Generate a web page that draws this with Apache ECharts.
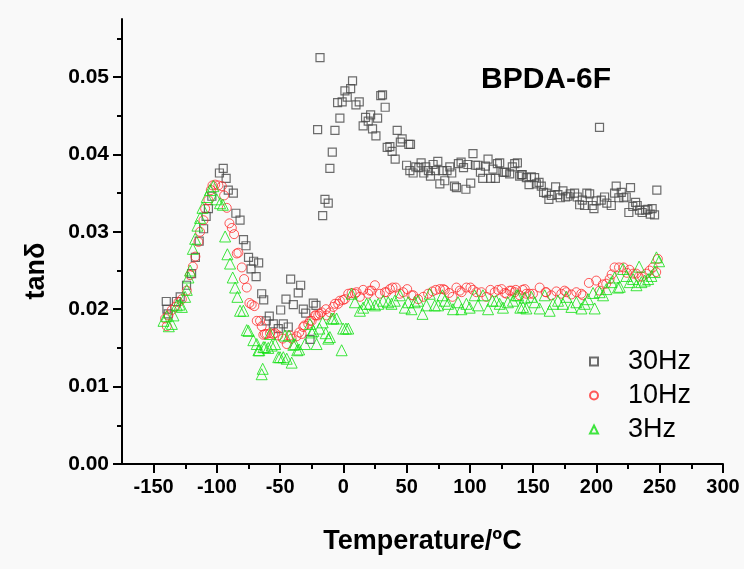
<!DOCTYPE html>
<html><head><meta charset="utf-8">
<script src="https://cdn.jsdelivr.net/npm/echarts@6/dist/echarts.min.js"></script>
<style>html,body{margin:0;padding:0;background:#f9f9f9}#c{width:744px;height:569px}</style>
</head><body><div id="c"></div>
<script>
// 30 Hz (squares)
const t30=[-140,-139.5,-138.5,-132,-129,-124,-120,-117,-114,-110.5,-108.5,-106.7,-104,-98,-95,-92.7,-91,-87,-85,-81.7,-79,-77,-75,-73,-71,-69,-67,-64.6,-63,-61,-58.6,-55.4,-51.5,-49.6,-47.5,-45.4,-43.6,-41.7,-39.6,-35.7,-33.8,-31.7,-29.8,-26.4,-23.8,-21.7,-20.4,-18.5,-16.4,-14.6,-12,-10.7,-8.8,-6.7,-4.6,-2.8,-1,1.2,3,5.7,7.2,9.9,12.5,15.6,17.5,19.6,21.5,23,25.7,27,29.5,30.9,33,34.6,36.7,38.5,40.9,42.5,45,46.4,49.9,51.7,53,52.5,55.1,57.2,59.6,61.4,63.5,65.1,67.2,68.8,70.9,72.8,74.6,76.2,78.3,80.1,81.9,84.1,85.6,87.8,89.3,90.9,93,94.9,96.8,98.4,100.6,102.4,104.3,106.4,108.3,110.1,112.2,114.3,116.4,118.2,120.1,121.7,123.5,126.1,127.5,128.8,131.4,133.5,135.4,137.5,139.3,140.6,141.4,144.6,146.7,148.5,151.1,152.5,154.6,156.4,158.2,160.4,162.4,164.3,167.7,169.5,171.4,173.5,175.6,177.4,179.3,182.7,184.8,186.7,188.8,190.6,192.4,194.6,196.7,198,199.8,202.4,203.8,206.4,208.2,211.7,214.3,215.6,217.7,219.6,221.6,223.5,225.6,226.9,228.7,230.9,232.2,234,236.1,238.8,240.6,242.5,244,245.9,247.7];
const v30=[.0210,.0200,.0194,.0210,.0216,.0231,.0246,.0267,.0288,.0304,.0320,.0330,.0346,.0376,.0382,.0369,.0354,.0350,.0324,.0315,.0290,.0282,.0267,.0252,.0262,.0242,.0260,.0220,.0212,.0185,.0191,.0181,.0175,.0199,.0181,.0213,.0177,.0239,.0206,.0221,.0231,.0200,.0195,.0161,.0208,.0205,.0432,.0525,.0321,.0342,.0337,.0382,.0403,.0431,.0467,.0447,.0468,.0482,.0474,.0485,.0495,.0464,.0468,.0437,.0448,.0443,.0451,.0433,.0424,.0447,.0476,.0477,.0461,.0409,.0410,.0404,.0394,.0431,.0416,.0420,.0386,.0413,.0413,.0379,.0376,.0384,.0383,.0389,.0376,.0384,.0379,.0372,.0387,.0379,.0391,.0362,.0379,.0366,.0379,.0384,.0376,.0359,.0357,.0388,.0390,.0383,.0355,.0387,.0363,.0401,.0386,.0386,.0377,.0369,.0385,.0394,.0369,.0381,.0369,.0388,.0389,.0377,.0377,.0377,.0375,.0384,.0388,.0389,.0372,.0374,.0374,.0370,.0361,.0371,.0370,.0362,.0364,.0359,.0351,.0350,.0342,.0347,.0358,.0348,.0344,.0353,.0345,.0346,.0349,.0350,.0345,.0335,.0341,.0334,.0350,.0349,.0334,.0330,.0340,.0435,.0341,.0345,.0337,.0334,.0350,.0359,.0344,.0351,.0344,.0345,.0325,.0357,.0333,.0338,.0334,.0328,.0325,.0328,.0329,.0323,.0330,.0322,.0354];
// 10 Hz (circles)
const t10=[-140.9,-139.6,-138.3,-135.6,-133,-130.4,-127.7,-123.8,-121.2,-119,-117,-114.6,-113.3,-110.6,-109.3,-106.7,-104.8,-103.5,-101.4,-98.8,-96.1,-94.3,-92.2,-90.1,-88.2,-86.4,-84.3,-83,-80.3,-78.5,-76.4,-74.3,-72.5,-70.4,-68.5,-65.9,-64.6,-63.3,-62,-60.6,-58,-55.4,-54,-51.5,-48,-44.8,-42.2,-40.9,-37,-34.9,-33,-31.7,-30.9,-27.8,-26.4,-25.1,-22.5,-21.7,-19.9,-18.5,-17.2,-13.8,-13.3,-10.7,-8,-6.7,-4.1,-2.8,-0.2,1.2,3.8,6.5,9.1,10.4,13,15.6,19.6,20.9,22.3,24.9,28.8,32.8,34.1,36.7,38.8,41.4,44.6,47.2,50.4,53.8,55.2,59,63.1,66.9,70.4,73,76.2,78.9,80.1,83.5,86.2,89.3,92,93.4,97.2,100.4,102.4,105.1,109.1,113,116.2,119.6,122.2,125,127.5,128.9,131.4,132.8,135.4,136.2,139.3,141.6,143.3,144.6,147.2,149.8,155.1,159.8,160.3,164.3,168.3,172.2,174.8,176.2,180.1,184.1,188,189.3,194,199.8,202.5,205,207.7,210.4,212,214.3,217.8,221.4,224,226.1,229,231.4,233.5,236.1,239.3,242,244.5,247.2,248.5];
const v10=[.0188,.0178,.0192,.0199,.0203,.0209,.0213,.0224,.0244,.0255,.0268,.0287,.0300,.0315,.0330,.0341,.0354,.0360,.0361,.0360,.0359,.0347,.0331,.0311,.0305,.0297,.0272,.0273,.0254,.0239,.0228,.0208,.0206,.0204,.0185,.0185,.0178,.0167,.0168,.0168,.0169,.0168,.0169,.0166,.0162,.0155,.0166,.0162,.0165,.0170,.0168,.0177,.0179,.0181,.0185,.0185,.0192,.0192,.0192,.0194,.0196,.0200,.0192,.0196,.0203,.0207,.0207,.0211,.0212,.0213,.0220,.0221,.0220,.0222,.0216,.0225,.0220,.0224,.0224,.0231,.0220,.0222,.0222,.0226,.0228,.0228,.0220,.0222,.0226,.0218,.0218,.0213,.0216,.0220,.0223,.0225,.0226,.0226,.0225,.0221,.0216,.0228,.0224,.0222,.0228,.0228,.0225,.0222,.0222,.0216,.0225,.0222,.0225,.0226,.0221,.0220,.0224,.0224,.0222,.0225,.0218,.0225,.0226,.0220,.0220,.0220,.0228,.0222,.0222,.0218,.0223,.0220,.0224,.0222,.0219,.0222,.0220,.0218,.0234,.0237,.0224,.0232,.0233,.0239,.0245,.0254,.0254,.0254,.0247,.0251,.0246,.0246,.0242,.0242,.0246,.0250,.0254,.0248,.0265];
// 3 Hz (triangles)
const t3=[-142.2,-139.6,-138,-135.6,-134.3,-131.7,-129.5,-127.7,-125.1,-123.8,-122.5,-121.2,-119,-117.2,-115.4,-113.3,-111.4,-108,-105.4,-102.8,-100.1,-97.5,-95.3,-93.5,-91.7,-89.6,-87.5,-85.6,-83.8,-81.7,-79.1,-76.4,-75,-71.2,-68.5,-67.2,-66.5,-64.6,-63.8,-63.3,-62,-59.4,-58,-56.7,-54,-51.5,-50.1,-47.5,-46.2,-44.8,-43,-40.9,-39.6,-38.3,-36.5,-35,-30.4,-26.4,-25,-23.8,-21.2,-19,-16.4,-14,-12,-10.7,-9.3,-8,-5.4,-1.4,-0.2,2,3.8,6.5,9.1,13,15.6,18.3,20.9,24.9,27.5,31.4,35.4,38,40.6,44.6,48.5,51.2,53.8,56.4,59,62.5,65.6,68.2,72.2,74.8,78.2,80.1,82.7,86.6,90.6,93.2,97.2,99.8,103.7,106.4,110.3,114.3,117.7,120.8,123.5,126.1,130,134,136.7,138,139.8,141.9,143.3,144.6,148.5,151.2,155.1,159.1,163,165.7,169.6,173.5,176.2,180.2,184.1,188.1,190.7,193.3,197.3,198.6,202.5,205.2,207.8,211.8,214.4,217,218.4,221,223.7,226.3,228.9,231.6,233.7,235.5,238.2,240.8,243.4,246.1,247.4,249.5];
const v3=[.0185,.0191,.0178,.0181,.0192,.0205,.0206,.0203,.0216,.0225,.0241,.0250,.0278,.0291,.0308,.0318,.0331,.0345,.0354,.0359,.0342,.0337,.0335,.0294,.0271,.0259,.0241,.0228,.0216,.0198,.0198,.0173,.0172,.0160,.0155,.0147,.0147,.0116,.0123,.0151,.0151,.0150,.0168,.0153,.0155,.0138,.0138,.0138,.0166,.0136,.0166,.0131,.0154,.0155,.0147,.0148,.0155,.0181,.0170,.0172,.0155,.0175,.0183,.0169,.0162,.0164,.0188,.0188,.0188,.0147,.0175,.0175,.0175,.0220,.0209,.0198,.0202,.0207,.0207,.0205,.0207,.0211,.0209,.0207,.0211,.0218,.0202,.0209,.0200,.0209,.0211,.0194,.0205,.0220,.0205,.0205,.0218,.0211,.0207,.0200,.0209,.0200,.0207,.0202,.0218,.0205,.0218,.0200,.0211,.0211,.0207,.0202,.0209,.0211,.0218,.0218,.0202,.0203,.0215,.0201,.0216,.0209,.0201,.0218,.0198,.0207,.0211,.0207,.0216,.0203,.0209,.0201,.0207,.0213,.0221,.0201,.0222,.0218,.0226,.0235,.0241,.0228,.0229,.0252,.0243,.0235,.0239,.0231,.0255,.0235,.0237,.0239,.0243,.0248,.0267,.0262];

const seriesNames=['30Hz','10Hz','3Hz'];
const xMajor=[-150,-100,-50,0,50,100,150,200,250,300];
const xMinor=[-125,-75,-25,25,75,125,175,225,275];
const yMajor=[0,0.01,0.02,0.03,0.04,0.05];
const yMinor=[0.005,0.015,0.025,0.035,0.045,0.055];

const zip=(a,b)=>a.map((x,i)=>[x,b[i]]);
const FONT='Liberation Sans, Arial, sans-serif';
const grid={left:122,right:21,top:19,bottom:105};
const chart=echarts.init(document.getElementById('c'));
chart.setOption({
  backgroundColor:'#f9f9f9',
  animation:false,
  title:{text:'BPDA-6F',left:476,top:60,textStyle:{fontFamily:FONT,fontWeight:'bold',fontSize:30,color:'#000'}},
  legend:{orient:'vertical',left:584,top:343,itemWidth:8,itemHeight:8,itemGap:7,
    data:seriesNames,
    textStyle:{fontFamily:FONT,fontSize:27,color:'#000',lineHeight:26,padding:[0,0,0,25]}},
  graphic:[{type:'text',position:[37,271],rotation:Math.PI/2,
    style:{text:'tanδ',x:0,y:0,align:'center',verticalAlign:'middle',font:'bold 27px Liberation Sans, Arial, sans-serif',fill:'#000'}}],
  grid:[Object.assign({},grid),Object.assign({},grid)],
  xAxis:[
    {type:'value',gridIndex:0,min:-175,max:300,
     axisLine:{onZero:false,lineStyle:{color:'#000',width:2}},
     axisTick:{customValues:xMajor,length:9,lineStyle:{color:'#000',width:2}},
     axisLabel:{customValues:xMajor,fontFamily:FONT,fontWeight:'bold',fontSize:20,color:'#000',margin:13},
     splitLine:{show:false},
     name:'Temperature/ºC',nameLocation:'middle',nameGap:64,
     nameTextStyle:{fontFamily:FONT,fontWeight:'bold',fontSize:27,color:'#000'}},
    {type:'value',gridIndex:1,min:-175,max:300,
     axisLine:{show:false,onZero:false},
     axisTick:{customValues:xMinor,length:5,lineStyle:{color:'#000',width:2}},
     axisLabel:{show:false},splitLine:{show:false}}
  ],
  yAxis:[
    {type:'value',gridIndex:0,min:0,max:0.0575,
     axisLine:{show:true,onZero:false,lineStyle:{color:'#000',width:2}},
     axisTick:{show:true,customValues:yMajor,length:9,lineStyle:{color:'#000',width:2}},
     axisLabel:{customValues:yMajor,fontFamily:FONT,fontWeight:'bold',fontSize:21,color:'#000',margin:13,
       formatter:v=>v.toFixed(2)},
     splitLine:{show:false}},
    {type:'value',gridIndex:1,min:0,max:0.0575,
     axisLine:{show:false,onZero:false},
     axisTick:{show:true,customValues:yMinor,length:5,lineStyle:{color:'#000',width:2}},
     axisLabel:{show:false},splitLine:{show:false}}
  ],
  series:[
    {name:seriesNames[0],type:'scatter',xAxisIndex:0,yAxisIndex:0,data:zip(t30,v30),symbol:'rect',symbolSize:8,
     itemStyle:{color:'rgba(0,0,0,0)',borderColor:'#484848',borderWidth:1.2}},
    {name:seriesNames[1],type:'scatter',xAxisIndex:0,yAxisIndex:0,data:zip(t10,v10),symbol:'circle',symbolSize:9,
     itemStyle:{color:'rgba(0,0,0,0)',borderColor:'#ff3030',borderWidth:1}},
    {name:seriesNames[2],type:'scatter',xAxisIndex:0,yAxisIndex:0,data:zip(t3,v3),symbol:'triangle',symbolSize:11,
     itemStyle:{color:'rgba(0,0,0,0)',borderColor:'#10e010',borderWidth:1}}
  ]
});
</script></body></html>
